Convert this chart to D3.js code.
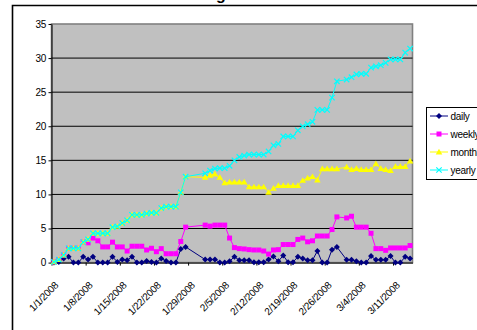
<!DOCTYPE html>
<html>
<head>
<meta charset="utf-8">
<script src="https://cdn.jsdelivr.net/npm/d3@7/dist/d3.min.js"></script>
<style>
  html, body { margin: 0; padding: 0; background: #fff; }
  svg { display: block; }
  text { font-family: "Liberation Sans", Arial, sans-serif; }
</style>
</head>
<body>
<svg id="chart" width="477" height="330"></svg>
<script>
// Observation dates (no entries for 1/29-1/31 and 2/29)
const dates = [
  "2008-01-01","2008-01-02","2008-01-03","2008-01-04","2008-01-05","2008-01-06","2008-01-07",
  "2008-01-08","2008-01-09","2008-01-10","2008-01-11","2008-01-12","2008-01-13","2008-01-14",
  "2008-01-15","2008-01-16","2008-01-17","2008-01-18","2008-01-19","2008-01-20","2008-01-21",
  "2008-01-22","2008-01-23","2008-01-24","2008-01-25","2008-01-26","2008-01-27","2008-01-28",
  "2008-02-01","2008-02-02","2008-02-03","2008-02-04","2008-02-05","2008-02-06","2008-02-07",
  "2008-02-08","2008-02-09","2008-02-10","2008-02-11","2008-02-12","2008-02-13","2008-02-14",
  "2008-02-15","2008-02-16","2008-02-17","2008-02-18","2008-02-19","2008-02-20","2008-02-21",
  "2008-02-22","2008-02-23","2008-02-24","2008-02-25","2008-02-26","2008-02-27","2008-02-28",
  "2008-03-01","2008-03-02","2008-03-03","2008-03-04","2008-03-05","2008-03-06","2008-03-07",
  "2008-03-08","2008-03-09","2008-03-10","2008-03-11","2008-03-12","2008-03-13","2008-03-14"
];

const daily = [
  0, 0.1, 0.6, 0.85, 0, 0, 0.85, 0.45, 0.85, 0, 0, 0, 0.85, 0.1,
  0.45, 0.35, 0.85, 0, 0, 0.25, 0.1, 0, 0.6, 0.25, 0, 0, 2.0, 2.3,
  0.45, 0.45, 0.45, 0, 0, 0.2, 0.85, 0.35, 0.35, 0.35, 0.05, 0.05, 0.05, 0.45,
  0.9, 0.2, 1.05, 0.05, 0.05, 0.85, 0.6, 0.35, 0.35, 1.7, 0, 0, 1.9, 2.3,
  0.4, 0.4, 0.2, 0, 0, 0.95, 0.4, 0.4, 0.4, 0.95, 0, 0, 0.85, 0.6
];

const weekly = [
  0.1, 0.45, 1.1, 2.1, 2.1, 2.1, 3.0, 2.9, 3.6, 3.2, 2.3, 2.3, 3.0, 2.3,
  2.3, 1.7, 2.4, 2.4, 2.4, 1.85, 2.1, 1.6, 2.05, 1.3, 1.3, 1.3, 3.1, 5.2,
  5.5, 5.35, 5.5, 5.5, 5.5, 3.6, 2.2, 2.05, 2.0, 1.9, 1.85, 1.85, 1.7, 1.25,
  1.85, 1.9, 2.65, 2.65, 2.65, 3.4, 3.6, 3.05, 3.2, 3.9, 3.9, 3.9, 4.85, 6.7,
  6.55, 6.8, 5.2, 5.2, 5.2, 4.3, 2.05, 2.05, 1.8, 2.15, 2.15, 2.15, 2.15, 2.5
];

const monthly = [
  0.1, 0.45, 1.1, 2.1, 2.1, 2.1, 3.0, 3.4, 4.3, 4.3, 4.3, 4.3, 5.2, 5.3,
  5.8, 6.2, 7.0, 7.0, 7.0, 7.2, 7.3, 7.3, 8.0, 8.2, 8.2, 8.2, 10.3, 12.6,
  12.5, 12.8, 13.0, 12.5, 11.7, 11.8, 11.8, 11.8, 11.8, 11.1, 11.1, 11.1, 11.1, 10.3,
  10.9, 11.3, 11.3, 11.3, 11.3, 11.3, 12.05, 12.4, 12.6, 12.1, 13.75, 13.75, 13.75, 13.75,
  14.0, 13.65, 13.8, 13.65, 13.65, 13.65, 14.5, 13.8, 13.65, 13.5, 14.1, 14.1, 14.1, 14.9
];

const yearly = [
  0.1, 0.45, 1.1, 2.1, 2.1, 2.1, 3.0, 3.4, 4.3, 4.3, 4.3, 4.3, 5.2, 5.3,
  5.8, 6.2, 7.0, 7.0, 7.0, 7.2, 7.3, 7.3, 8.0, 8.2, 8.2, 8.2, 10.3, 12.6,
  13.1, 13.5, 13.8, 13.85, 13.85, 14.2, 15.0, 15.5, 15.7, 15.85, 15.85, 15.85, 15.85, 16.3,
  17.2, 17.4, 18.5, 18.5, 18.5, 19.4, 20.0, 20.3, 20.65, 22.4, 22.4, 22.4, 24.2, 26.6,
  26.85, 27.2, 27.6, 27.7, 27.7, 28.6, 28.8, 28.95, 29.3, 29.8, 29.8, 29.8, 30.8, 31.4
];

const seriesNames = ["daily", "weekly", "monthly", "yearly"];
const seriesColors = ["#000080", "#FF00FF", "#FFFF00", "#00FFFF"];

const tickDates = ["2008-01-01","2008-01-08","2008-01-15","2008-01-22","2008-01-29","2008-02-05",
                   "2008-02-12","2008-02-19","2008-02-26","2008-03-04","2008-03-11"];
const tickLabels = ["1/1/2008","1/8/2008","1/15/2008","1/22/2008","1/29/2008","2/5/2008",
                    "2/12/2008","2/19/2008","2/26/2008","3/4/2008","3/11/2008"];
const yTicks = [0, 5, 10, 15, 20, 25, 30, 35];

(function () {
  const parse = d3.timeParse("%Y-%m-%d");
  const svg = d3.select("#chart");

  // Plot geometry
  const plotL = 51.5, plotR = 412.5, plotT = 24, plotB = 262.6;

  const x = d3.scaleTime()
    .domain([parse("2008-01-01"), parse("2008-03-15")])
    .range([plotL, plotR]);
  const y = d3.scaleLinear().domain([0, 35]).range([plotB, plotT]);

  // each observation sits in the middle of its day
  const xPos = s => x(d3.timeHour.offset(parse(s), 12));

  // Chart frame
  svg.append("path")
    .attr("d", "M12.5,331V5.5H478")
    .attr("fill", "none").attr("stroke", "#000").attr("stroke-width", 1.6);

  // Title (sits mostly above the frame)
  svg.append("text")
    .attr("x", 161).attr("y", 0)
    .attr("font-size", 16).attr("font-weight", "bold")
    .text("Running Totals");

  // Plot area
  svg.append("rect")
    .attr("x", plotL).attr("y", plotT)
    .attr("width", plotR - plotL).attr("height", plotB - plotT)
    .attr("fill", "#C0C0C0").attr("stroke", "#808080").attr("stroke-width", 1.6);

  // Gridlines
  svg.append("g").selectAll("line")
    .data(yTicks.filter(v => v > 0 && v < 35))
    .join("line")
    .attr("x1", plotL).attr("x2", plotR)
    .attr("y1", d => y(d)).attr("y2", d => y(d))
    .attr("stroke", "#000").attr("stroke-width", 1);

  // Y axis
  const yAxis = svg.append("g")
    .attr("transform", `translate(${plotL},0)`)
    .call(d3.axisLeft(y).tickValues(yTicks).tickSize(3).tickPadding(2.5).tickSizeOuter(0));
  yAxis.select(".domain").attr("stroke", "#000");
  yAxis.selectAll(".tick line").attr("stroke", "#000");
  yAxis.selectAll("text")
    .attr("font-size", 10).attr("fill", "#000")
    .attr("font-family", "'Liberation Sans', Arial, sans-serif")
    .attr("letter-spacing", -0.3);

  // X axis
  const xAxis = svg.append("g")
    .attr("transform", `translate(0,${plotB})`)
    .call(d3.axisBottom(x)
      .tickValues(tickDates.map(parse))
      .tickFormat((d, i) => tickLabels[i])
      .tickSize(3).tickSizeOuter(0));
  xAxis.select(".domain").attr("stroke", "#000");
  xAxis.selectAll(".tick line").attr("stroke", "#000");
  xAxis.selectAll("text")
    .attr("font-size", 10).attr("fill", "#000")
    .attr("font-family", "'Liberation Sans', Arial, sans-serif")
    .attr("letter-spacing", -0.3)
    .attr("text-anchor", "end")
    .attr("x", 0).attr("y", 0).attr("dy", 0)
    .attr("transform", "translate(7,23.5) rotate(-45)");

  // Marker shapes
  const markers = {
    daily:   g => g.append("path").attr("d", "M0,-3L3,0L0,3L-3,0Z").attr("fill", seriesColors[0]),
    weekly:  g => g.append("path").attr("d", "M-2.5,-2.5H2.5V2.5H-2.5Z").attr("fill", seriesColors[1]),
    monthly: g => g.append("path").attr("d", "M0,-3.3L3.3,2.4H-3.3Z").attr("fill", seriesColors[2]),
    yearly:  g => g.append("path").attr("d", "M-2.7,-2.7L2.7,2.7M-2.7,2.7L2.7,-2.7")
                    .attr("fill", "none").attr("stroke", seriesColors[3]).attr("stroke-width", 1.2)
  };

  const seriesValues = [daily, weekly, monthly, yearly];
  const plot = svg.append("g");

  seriesValues.forEach((vals, si) => {
    const pts = dates.map((d, i) => [xPos(d), y(vals[i])]);
    const g = plot.append("g");
    g.append("path")
      .attr("d", d3.line()(pts))
      .attr("fill", "none")
      .attr("stroke", seriesColors[si])
      .attr("stroke-width", 1);
    pts.forEach(p => {
      const m = g.append("g").attr("transform", `translate(${p[0]},${p[1]})`);
      markers[seriesNames[si]](m);
    });
  });

  // Legend
  const legend = svg.append("g");
  legend.append("rect")
    .attr("x", 426.5).attr("y", 107.5).attr("width", 60).attr("height", 72)
    .attr("fill", "#fff").attr("stroke", "#000").attr("stroke-width", 1);
  seriesNames.forEach((name, i) => {
    const ly = 116 + i * 18;
    const row = legend.append("g").attr("transform", `translate(0,${ly})`);
    row.append("line")
      .attr("x1", 430).attr("x2", 448).attr("y1", 0).attr("y2", 0)
      .attr("stroke", seriesColors[i]).attr("stroke-width", 1);
    markers[name](row.append("g").attr("transform", "translate(439,0)"));
    row.append("text")
      .attr("x", 450.5).attr("y", 0).attr("dy", "0.35em")
      .attr("font-size", 10).attr("letter-spacing", -0.3)
      .text(name);
  });
})();
</script>
</body>
</html>
